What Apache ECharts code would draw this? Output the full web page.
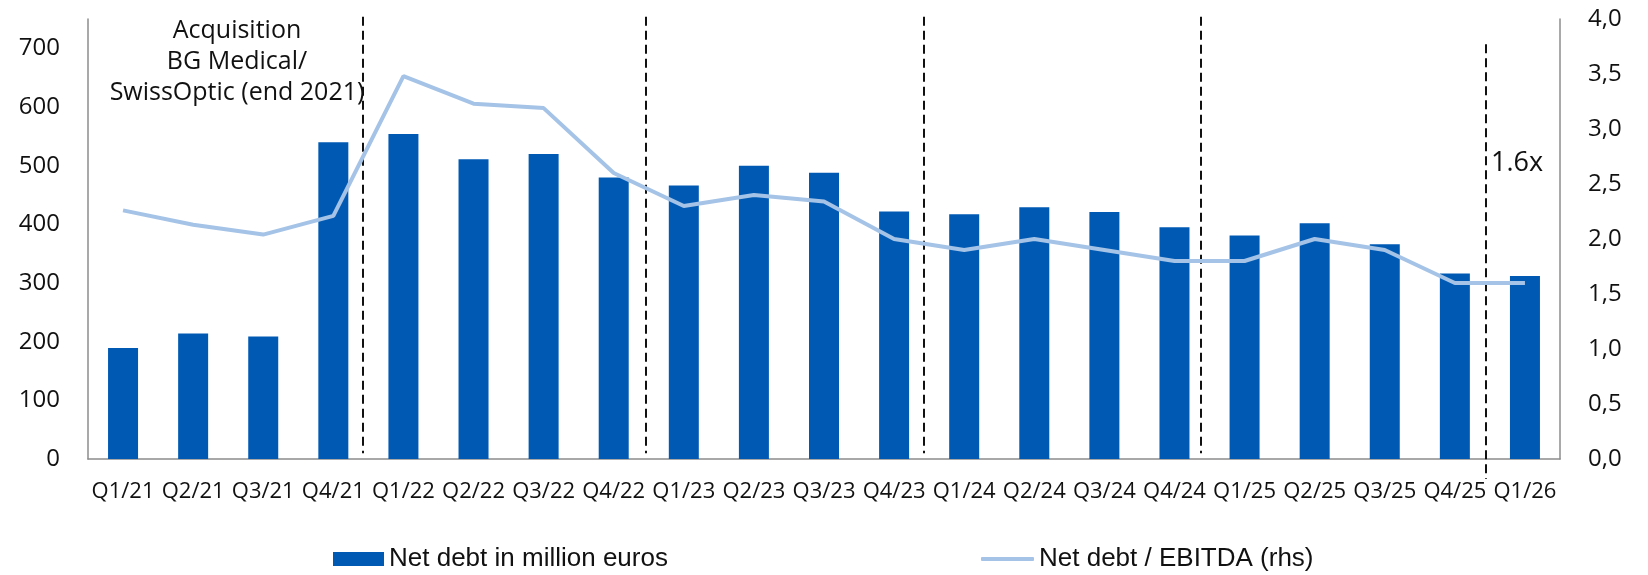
<!DOCTYPE html>
<html>
<head>
<meta charset="utf-8">
<script src="https://cdn.jsdelivr.net/npm/echarts@6/dist/echarts.min.js"></script>
<style>
html,body{margin:0;padding:0;background:#fff;}
#chart{width:1648px;height:575px;}
</style>
</head>
<body>
<div id="chart"></div>
<script>
const categories = ['Q1/21','Q2/21','Q3/21','Q4/21','Q1/22','Q2/22','Q3/22','Q4/22','Q1/23','Q2/23','Q3/23','Q4/23','Q1/24','Q2/24','Q3/24','Q4/24','Q1/25','Q2/25','Q3/25','Q4/25','Q1/26'];
const netDebt = [189, 214, 209, 540, 554, 511, 520, 480, 466, 500, 488, 422, 417, 429, 421, 395, 381, 402, 366, 316, 312];
const netDebtEbitda = [2.26, 2.13, 2.04, 2.21, 3.48, 3.23, 3.19, 2.60, 2.30, 2.40, 2.34, 2.00, 1.90, 2.00, 1.90, 1.80, 1.80, 2.00, 1.90, 1.60, 1.60];
const seriesNames = ['Net debt in million euros', 'Net debt / EBITDA (rhs)'];
const leftTicks = {min: 0, max: 750, interval: 100};
const rightTicks = {min: 0, max: 4, interval: 0.5};
// separator positions in category units (from left edge of the plot), with their top/bottom in left-axis units
const separators = [3.92, 7.96, 11.93, 15.87];
const separatorSpan = [754, 10];
const lastSeparator = 19.94;
const lastSeparatorSpan = [707, -34];
const annotationText = 'Acquisition\nBG Medical/\nSwissOptic (end 2021)';
const ratioNote = '1.6x';

const chart = echarts.init(document.getElementById('chart'), null, {renderer: 'canvas'});
const FONT = '"Open Sans", "Noto Sans", sans-serif';
const axisLineStyle = {color: '#8c8c8c', width: 1.5};

const sepData = separators.map(u => ({coords: [[u, separatorSpan[0]], [u, separatorSpan[1]]]}));
sepData.push({coords: [[lastSeparator, lastSeparatorSpan[0]], [lastSeparator, lastSeparatorSpan[1]]]});

chart.setOption({
  animation: false,
  backgroundColor: '#ffffff',
  grid: {left: 88, right: 88, top: 19, bottom: 116, containLabel: false},
  title: [{
    text: annotationText,
    left: 237, top: 15, textAlign: 'center', padding: 0,
    textStyle: {fontFamily: FONT, fontSize: 25, fontWeight: 'normal', lineHeight: 31, color: '#111'}
  }, {
    text: ratioNote,
    left: 1491, top: 150, padding: 0,
    textStyle: {fontFamily: FONT, fontSize: 27, fontWeight: 'normal', color: '#111'}
  }],
  xAxis: [{
    type: 'category',
    data: categories,
    boundaryGap: true,
    axisLine: {lineStyle: axisLineStyle},
    axisTick: {show: false},
    axisLabel: {color: '#111', fontFamily: FONT, fontSize: 22, margin: 22, interval: 0}
  }, {
    type: 'value', min: 0, max: categories.length, show: false
  }],
  yAxis: [{
    type: 'value',
    min: leftTicks.min, max: leftTicks.max, interval: leftTicks.interval,
    axisLine: {show: true, lineStyle: axisLineStyle},
    axisTick: {show: false},
    splitLine: {show: false},
    axisLabel: {color: '#111', fontFamily: FONT, fontSize: 24, margin: 28, showMaxLabel: false}
  }, {
    type: 'value',
    min: rightTicks.min, max: rightTicks.max, interval: rightTicks.interval,
    position: 'right',
    axisLine: {show: true, lineStyle: axisLineStyle},
    axisTick: {show: false},
    splitLine: {show: false},
    axisLabel: {color: '#111', fontFamily: FONT, fontSize: 24, margin: 28,
      formatter: v => v.toFixed(1).replace('.', ',')}
  }],
  legend: [{
    data: [seriesNames[0]],
    left: 333, top: 546, padding: 0,
    itemWidth: 51, itemHeight: 14, icon: 'rect',
    textStyle: {fontFamily: '"Liberation Sans", Arial, sans-serif', fontSize: 26, color: '#111'}
  }, {
    data: [seriesNames[1]],
    left: 981, top: 546, padding: 0,
    itemWidth: 53, itemHeight: 4, icon: 'roundRect',
    textStyle: {fontFamily: '"Liberation Sans", Arial, sans-serif', fontSize: 26, color: '#111'}
  }],
  series: [{
    name: seriesNames[0],
    type: 'bar',
    data: netDebt,
    barWidth: 30,
    itemStyle: {color: '#005AB4'},
    z: 2
  }, {
    name: seriesNames[1],
    type: 'line',
    yAxisIndex: 1,
    data: netDebtEbitda,
    symbol: 'none',
    lineStyle: {color: '#A4C3E6', width: 4},
    itemStyle: {color: '#A4C3E6'},
    z: 4
  }, {
    name: 'separators',
    type: 'lines',
    coordinateSystem: 'cartesian2d',
    xAxisIndex: 1,
    yAxisIndex: 0,
    clip: false,
    silent: true,
    z: 3,
    lineStyle: {color: '#111', width: 2, type: [9, 5], opacity: 1, curveness: 0},
    data: sepData
  }]
});
</script>
</body>
</html>
